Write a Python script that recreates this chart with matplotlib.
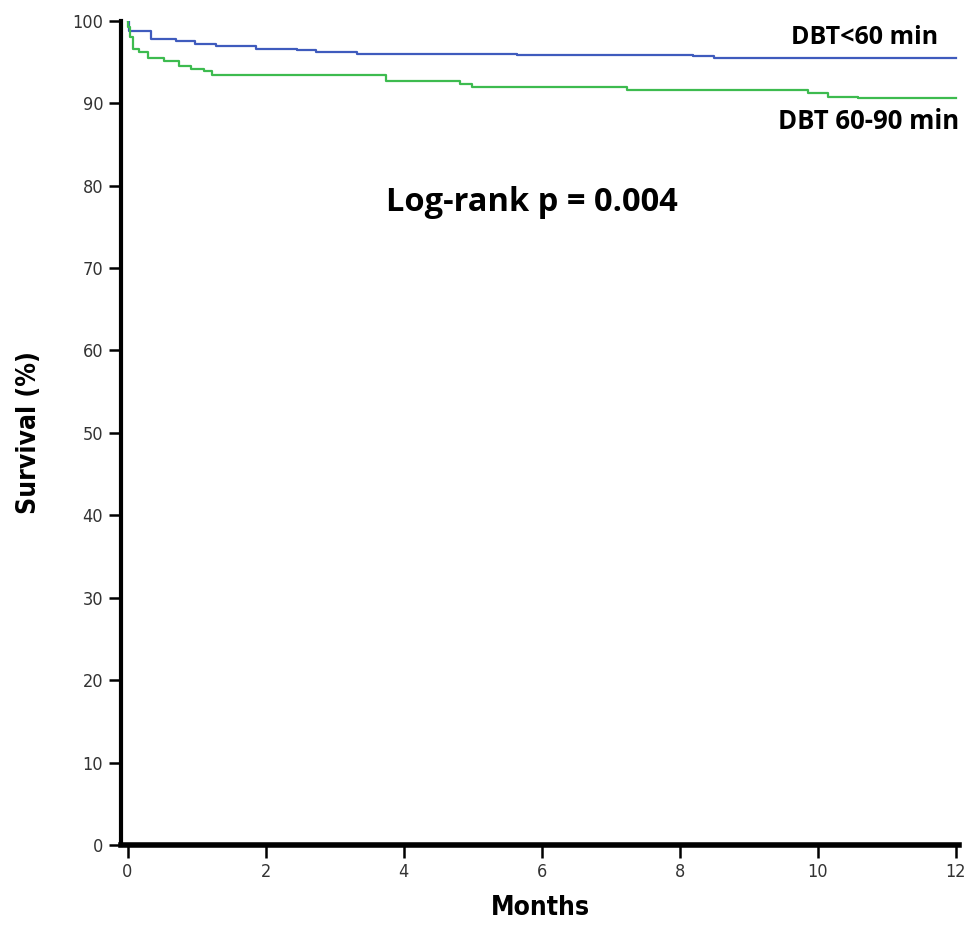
import matplotlib.pyplot as plt

# -----------------------------------
# DATA
# -----------------------------------

blue_t = [0, 0.02, 0.34, 0.70, 0.97, 1.28, 1.86, 2.46, 2.73, 3.33, 5.64, 8.19, 8.50, 12]
blue_s = [100, 98.8, 97.8, 97.5, 97.2, 96.9, 96.6, 96.5, 96.2, 96.0, 95.9, 95.7, 95.5, 95.5]

green_t = [0, 0.01, 0.03, 0.08, 0.17, 0.29, 0.53, 0.75, 0.92, 1.11, 1.23, 3.74, 4.82, 4.99,
           7.23, 9.86, 10.14, 10.58, 12]
green_s = [100, 99.2, 98.0, 96.6, 96.2, 95.5, 95.1, 94.5, 94.2, 93.9, 93.4, 92.7, 92.3, 92.0,
           91.6, 91.3, 90.8, 90.6, 90.6]

x_ticks = [0, 2, 4, 6, 8, 10, 12]
y_ticks = [0, 10, 20, 30, 40, 50, 60, 70, 80, 90, 100]

# -----------------------------------
# PLOT
# -----------------------------------

fig = plt.figure(figsize=(9.73, 9.27), dpi=100)
ax = fig.add_axes([0.124, 0.0885, 0.862, 0.889])

ax.step(blue_t, blue_s, where='post', color='#3f5bbd', linewidth=1.6)
ax.step(green_t, green_s, where='post', color='#3dbb4f', linewidth=1.6)

ax.set_xlim(-0.1, 12.05)
ax.set_ylim(0, 100)
ax.set_xticks(x_ticks)
ax.set_yticks(y_ticks)

for s in ['top', 'right']:
    ax.spines[s].set_visible(False)
ax.spines['left'].set_linewidth(3)
ax.spines['bottom'].set_linewidth(4)

ax.tick_params(axis='both', direction='out', length=9, width=1.8,
               labelsize=13, colors='black')
ax.tick_params(axis='x', pad=4)
for lbl in ax.get_xticklabels() + ax.get_yticklabels():
    lbl.set_family('DejaVu Sans')
    lbl.set_stretch('condensed')
    lbl.set_color('#333333')

ax.set_xlabel("Months", fontsize=19, fontweight='bold', family='DejaVu Sans',
              fontstretch='condensed', labelpad=10)
ax.set_ylabel("Survival (%)", fontsize=19, fontweight='bold', family='DejaVu Sans',
              fontstretch='condensed', labelpad=22)

ax.text(0.975, 0.98, "DBT<60 min", transform=ax.transAxes, ha='right', va='center',
        fontsize=18, fontweight='bold', family='Open Sans')
ax.text(1.0, 0.878, "DBT 60-90 min", transform=ax.transAxes, ha='right', va='center',
        fontsize=18.5, fontweight='bold', family='Open Sans')
ax.text(0.49, 0.78, "Log-rank p = 0.004", transform=ax.transAxes, ha='center', va='center',
        fontsize=23.5, fontweight='bold', family='Open Sans')

plt.savefig("out.png", dpi=100)
plt.close()
